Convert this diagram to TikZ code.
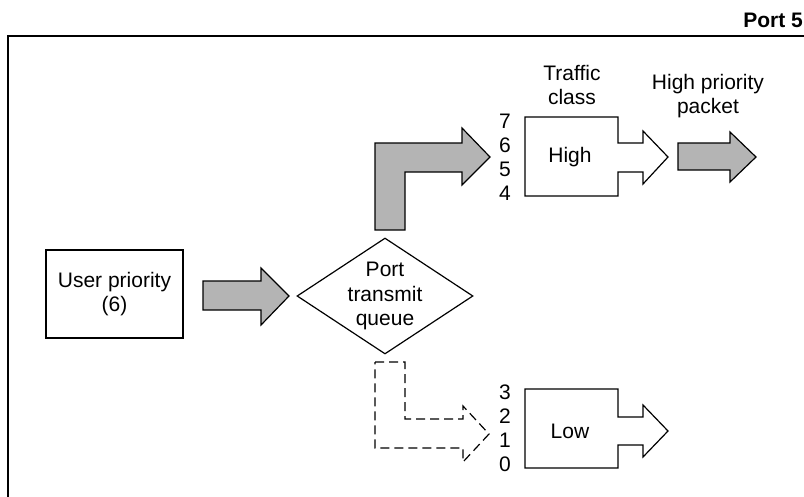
\documentclass[tikz,border=0pt]{standalone}
\usepackage{fontspec}
\setmainfont{Liberation Sans}
\usetikzlibrary{shapes.geometric}
\definecolor{arrowgray}{RGB}{180,180,180}
\begin{document}
\begin{tikzpicture}[x=1pt,y=-1pt,
  txt/.style={inner sep=0pt, align=center, font=\fontsize{21}{24.5}\selectfont},
  boxline/.style={draw=black, line width=1.2pt, line join=miter},
  grayarrow/.style={draw=black, line width=1.2pt, fill=arrowgray, line join=miter},
  dasharrow/.style={draw=black, line width=1.2pt, dash pattern=on 9pt off 5pt},
  framestyle/.style={draw=black, line width=1.5pt}]
\useasboundingbox (0,0) rectangle (804,496);
\begin{scope}
\clip (0,0) rectangle (804,496);
% frame
\draw[framestyle] (8,510) -- (8,36) -- (820,36);
\end{scope}
\node[txt, font=\fontsize{21}{24}\selectfont\bfseries, anchor=base east] (port) at (803,27) {Port 5};

% user priority
\node[boxline, minimum width=137pt, minimum height=88pt, inner sep=0pt, txt] (user) at (114.5,294) {User priority\\(6)};

% arrow to queue
\draw[grayarrow] (203,281) -- (261,281) -- (261,268) -- (289,296) -- (261,325) -- (261,310) -- (203,310) -- cycle;

% diamond
\node[draw=black, line width=1.2pt, shape=diamond, inner sep=0pt, minimum width=176pt, minimum height=116pt] (queue) at (385,296) {};
\node[txt] (queuetext) at (queue.center) {Port\\transmit\\queue};

% L arrow up to High
\draw[grayarrow] (375,230) -- (375,143) -- (462,143) -- (462,128) -- (490,157) -- (462,185) -- (462,172) -- (405,172) -- (405,230) -- cycle;

% dashed L arrow to Low
\draw[dasharrow] (375,362) -- (405,362) -- (405,419) -- (463,419) -- (463,406) -- (489,434) -- (463,462) -- (463,448) -- (375,448) -- cycle;

% High traffic class
\node[txt] (tclass) at (572,85) {Traffic\\class};
\draw[boxline] (618,143) -- (618,117) -- (525,117) -- (525,196) -- (618,196) -- (618,172) -- (643,172) -- (643,184) -- (668,157) -- (643,131) -- (643,143) -- cycle;
\node[txt] (high) at (570,157) {High};
\node[txt] (n7) at (505,121) {7};
\node[txt] (n6) at (505,145) {6};
\node[txt] (n5) at (505,169) {5};
\node[txt] (n4) at (505,193) {4};

% high priority packet
\node[txt] (hpp) at (708,96) {High priority\\packet};
\draw[grayarrow] (678,143) -- (730,143) -- (730,132) -- (756,157) -- (730,182) -- (730,170) -- (678,170) -- cycle;

% Low traffic class
\draw[boxline] (618,417) -- (618,389) -- (525,389) -- (525,468) -- (618,468) -- (618,445) -- (643,445) -- (643,457) -- (668,431) -- (643,405) -- (643,417) -- cycle;
\node[txt] (low) at (570,431) {Low};
\node[txt] (n3) at (505,392) {3};
\node[txt] (n2) at (505,416) {2};
\node[txt] (n1) at (505,440) {1};
\node[txt] (n0) at (505,464) {0};
\end{tikzpicture}
\end{document}
